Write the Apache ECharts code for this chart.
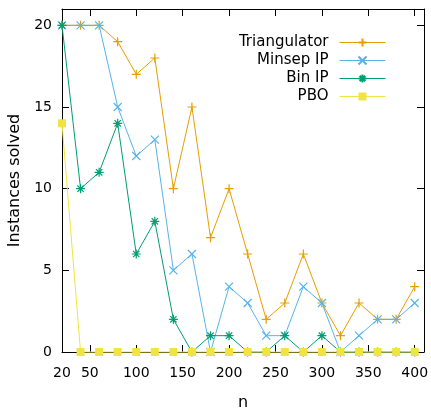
<!DOCTYPE html>
<html>
<head>
<meta charset="utf-8">
<script src="https://cdn.jsdelivr.net/npm/echarts@6/dist/echarts.min.js"></script>
<style>
html,body{margin:0;padding:0;background:#fff;}
#chart{width:431px;height:408px;}
</style>
</head>
<body>
<div id="chart"></div>
<script>
const nValues = [20,40,60,80,100,120,140,160,180,200,220,240,260,280,300,320,340,360,380,400];
const triangulator = [20,20,20,19,17,18,10,15,7,10,6,2,3,6,3,1,3,2,2,4];
const minsepIP = [20,20,20,15,12,13,5,6,0,4,3,1,1,4,3,0,1,2,2,3];
const binIP = [20,10,11,14,6,8,2,0,1,1,0,0,1,0,1,0,0,0,0,0];
const pbo = [14,0,0,0,0,0,0,0,0,0,0,0,0,0,0,0,0,0,0,0];
const xTicks = [20,50,100,150,200,250,300,350,400];
const yTicks = [0,5,10,15,20];

const FONT = 'DejaVu Sans';
const chart = echarts.init(document.getElementById('chart'), null, {renderer:'canvas'});

const plusPath = 'path://M1,0L1,2M0,1L2,1';
const crossPath = 'path://M0,0L2,2M0,2L2,0';
const starPath = 'path://M1,0L1,2M0,1L2,1M0.3,0.3L1.7,1.7M0.3,1.7L1.7,0.3';

function mk(name, vals, color, symbol, size, filled) {
  return {
    name: name,
    type: 'line',
    data: nValues.map((x, i) => [x, vals[i]]),
    symbol: symbol,
    symbolSize: size,
    showAllSymbol: true,
    clip: false,
    lineStyle: {color: color, width: 1},
    itemStyle: filled ? {color: color} : {color: color, borderColor: color, borderWidth: 1.2},
    emphasis: {disabled: true},
    animation: false
  };
}

const tickStyle = {inside: true, length: 7, lineStyle: {color: '#000', width: 1}};
const lineStyle = {show: true, onZero: false, lineStyle: {color: '#000', width: 1}};

chart.setOption({
  animation: false,
  backgroundColor: '#fff',
  textStyle: {fontFamily: FONT},
  grid: {left: 62, right: 7, top: 9, bottom: 56, containLabel: false, outerBoundsMode: 'none'},
  legend: {
    orient: 'vertical',
    align: 'right',
    right: 40,
    top: 30,
    itemWidth: 46,
    itemHeight: 10,
    itemGap: 3,
    lineStyle: {width: 1},
    textStyle: {fontFamily: FONT, fontSize: 15, color: '#000', padding: [0, 6, 0, 0]},
    data: ['Triangulator', 'Minsep IP', 'Bin IP', 'PBO']
  },
  xAxis: [{
    type: 'value', min: 20, max: 410, position: 'bottom',
    name: 'n', nameLocation: 'middle', nameGap: 43,
    nameTextStyle: {fontFamily: FONT, fontSize: 16, color: '#000'},
    axisLine: lineStyle,
    axisTick: Object.assign({customValues: xTicks}, tickStyle),
    axisLabel: {customValues: xTicks, fontFamily: FONT, fontSize: 14, color: '#000', margin: 14},
    splitLine: {show: false}
  }, {
    type: 'value', min: 20, max: 410, position: 'top',
    axisLine: lineStyle,
    axisTick: Object.assign({customValues: xTicks}, tickStyle),
    axisLabel: {show: false},
    splitLine: {show: false}
  }],
  yAxis: [{
    type: 'value', min: 0, max: 21, position: 'left',
    name: 'Instances solved', nameLocation: 'middle', nameGap: 33,
    nameTextStyle: {fontFamily: FONT, fontSize: 16, color: '#000'},
    axisLine: lineStyle,
    axisTick: Object.assign({customValues: yTicks}, tickStyle),
    axisLabel: {customValues: yTicks, fontFamily: FONT, fontSize: 14, color: '#000', margin: 10},
    splitLine: {show: false}
  }, {
    type: 'value', min: 0, max: 21, position: 'right',
    axisLine: lineStyle,
    axisTick: Object.assign({customValues: yTicks}, tickStyle),
    axisLabel: {show: false},
    splitLine: {show: false}
  }],
  series: [
    mk('Triangulator', triangulator, '#E69F00', plusPath, 9, false),
    mk('Minsep IP', minsepIP, '#56B4E9', crossPath, 8, false),
    mk('Bin IP', binIP, '#009E73', starPath, 9, false),
    mk('PBO', pbo, '#F0E442', 'rect', 8, true)
  ]
});
</script>
</body>
</html>
